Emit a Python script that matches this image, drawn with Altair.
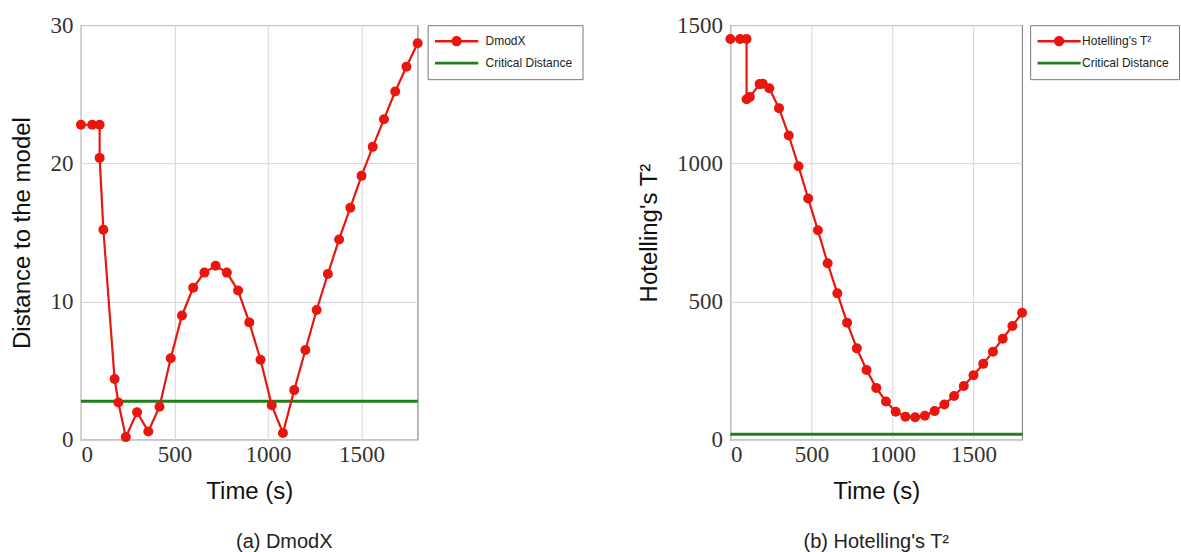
import altair as alt
import pandas as pd

# ---- data ----
time_s = [0, 60, 100, 100, 120, 180, 200, 240, 300, 360, 420, 480, 540, 600,
          660, 720, 780, 840, 900, 960, 1020, 1080, 1140, 1200, 1260, 1320,
          1380, 1440, 1500, 1560, 1620, 1680, 1740, 1800]
dmodx = [22.8, 22.8, 22.8, 20.4, 15.2, 4.4, 2.7, 0.2, 2.0, 0.6, 2.4, 5.9, 9.0,
         11.0, 12.1, 12.6, 12.1, 10.8, 8.5, 5.8, 2.5, 0.5, 3.6, 6.5, 9.4, 12.0,
         14.5, 16.8, 19.1, 21.2, 23.2, 25.2, 27.0, 28.7]
hotelling = [1450, 1450, 1450, 1232, 1240, 1287, 1288, 1272, 1200, 1101, 990,
             873, 758, 639, 530, 424, 331, 253, 188, 139, 102, 84, 82, 87, 104,
             128, 159, 195, 234, 275, 319, 366, 412, 460]
crit_dmodx = 2.8
crit_hotelling = 20

x_ticks = [0, 500, 1000, 1500]
y_ticks_a = [0, 10, 20, 30]
y_ticks_b = [0, 500, 1000, 1500]

RED = "#e8160c"
GREEN = "#1f7f1a"

# legend glyphs (filled shapes): a bar with a dot, and a plain bar
DOT_PATH = ("M-3.6,-0.22L3.6,-0.22L3.6,0.22L-3.6,0.22Z"
            "M0.85,0A0.85,0.85,0,1,1,-0.85,0A0.85,0.85,0,1,1,0.85,0Z")
LINE_PATH = "M-3.6,-0.24L3.6,-0.24L3.6,0.24L-3.6,0.24Z"


def make_legend(label_offset, offset):
    return alt.Legend(
        title=None, orient="right", offset=offset, padding=10,
        strokeColor="#777", fillColor="white",
        symbolSize=144, symbolStrokeWidth=0, symbolOpacity=1,
        symbolOffset=13, labelOffset=label_offset, rowPadding=10,
        labelFont="Liberation Sans", labelFontSize=12, labelColor="#222",
    )


def panel(values, crit, name, ytitle, ydomain, yticks, width, caption, cap_dx,
          label_offset, leg_offset):
    df = pd.DataFrame({"t": time_s, "v": values, "series": name,
                       "i": list(range(len(time_s)))})
    cdf = pd.DataFrame({"v": [crit], "series": ["Critical Distance"]})
    ldf = pd.DataFrame({"t": [-1000, -1000], "v": [-1000, -1000],
                        "series": [name, "Critical Distance"]})
    cscale = alt.Scale(domain=[name, "Critical Distance"], range=[RED, GREEN])
    lg = make_legend(label_offset, leg_offset)
    color = alt.Color("series:N", scale=cscale, legend=lg)
    x = alt.X("t:Q", title="Time (s)", scale=alt.Scale(domain=[0, 1800], nice=False),
              axis=alt.Axis(values=x_ticks, titlePadding=13, labelPadding=4))
    y = alt.Y("v:Q", title=ytitle, scale=alt.Scale(domain=ydomain, nice=False),
              axis=alt.Axis(values=yticks, titlePadding=15, labelPadding=8))
    leg = alt.Chart(ldf).mark_point(filled=True, opacity=1, clip=True).encode(
        x=x, y=y, color=color,
        shape=alt.Shape("series:N",
                        scale=alt.Scale(domain=[name, "Critical Distance"],
                                        range=[DOT_PATH, LINE_PATH]),
                        legend=lg),
    )
    line = alt.Chart(df).mark_line(strokeWidth=2.2).encode(
        x=x, y=y, color=color, order="i:Q")
    pts = alt.Chart(df).mark_circle(size=100, opacity=1).encode(
        x=x, y=y, color=color)
    crit_rule = alt.Chart(cdf).mark_rule(strokeWidth=3).encode(
        y=alt.Y("v:Q"), color=color)
    return alt.layer(leg, crit_rule, line, pts).properties(
        width=width, height=415,
        title=alt.TitleParams(caption, orient="bottom", font="Liberation Sans",
                              fontSize=20, fontWeight="normal", color="#222",
                              offset=28, dx=cap_dx),
    )


left = panel(dmodx, crit_dmodx, "DmodX", "Distance to the model",
             [0, 30], y_ticks_a, 337, "(a) DmodX", 35, 23, 5)
right = panel(hotelling, crit_hotelling, "Hotelling's T²", "Hotelling's T²",
              [0, 1500], y_ticks_b, 292, "(b) Hotelling's T²", 0, 17, 3)

chart = alt.hconcat(left, right, spacing=52).resolve_scale(
    color="independent", shape="independent", x="independent", y="independent"
).resolve_legend(color="independent", shape="independent").properties(
    padding={"left": 10, "top": 13, "right": 0, "bottom": 0}
).configure_view(
    stroke="#888", strokeWidth=1.2
).configure_axis(
    labelFont="Liberation Serif", labelFontSize=23, labelColor="#333",
    titleFont="Liberation Sans", titleFontSize=24, titleFontWeight="normal",
    titleColor="#111", gridColor="#d6d6d6", domain=False, ticks=False,
    format="d",
)

chart.save("out.html", embed_options={"renderer": "svg", "actions": False})
